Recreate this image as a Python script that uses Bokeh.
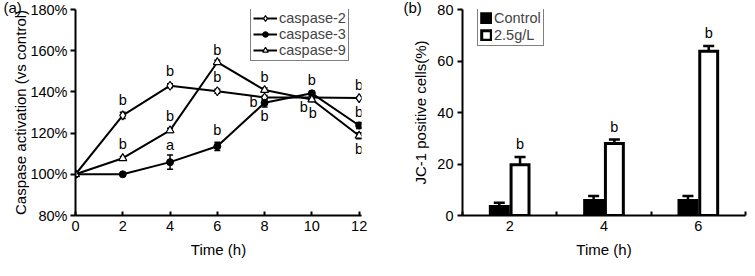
from bokeh.plotting import figure
from bokeh.models import (ColumnDataSource, FixedTicker, PrintfTickFormatter, Whisker,
                          TeeHead, Legend, LegendItem, Range1d)
from bokeh.layouts import row
from bokeh.embed import file_html
from bokeh.resources import INLINE
from bokeh.core.properties import value

FONT = "Liberation Sans"

# ---------------- data: panel (a) ----------------
time_h = [0, 2, 4, 6, 8, 10, 12]
casp2 = [100, 128.6, 143.0, 140.3, 137.3, 137.3, 137.0]
casp2_err = [0, 1.5, 1.0, 1.0, 1.0, 0.5, 0.5]
casp3 = [100, 100, 105.9, 113.6, 134.7, 139.3, 123.7]
casp3_err = [0, 0.5, 3.5, 2.0, 2.0, 1.0, 1.5]
casp9 = [100, 107.8, 121.3, 154.4, 140.9, 136.3, 118.7]
casp9_err = [0, 0.8, 1.0, 1.0, 1.0, 1.0, 1.5]
pct_ticks = [80, 100, 120, 140, 160, 180]
time_ticks = [0, 2, 4, 6, 8, 10, 12]

# significance letters (series, time index, letter)
sig_series = ["c2", "c9", "c2", "c9", "c3", "c9", "c2", "c3", "c9", "c2", "c3",
              "c3", "c2", "c9", "c2", "c3", "c9"]
sig_idx = [1, 1, 2, 2, 2, 3, 3, 3, 4, 4, 4, 5, 5, 5, 6, 6, 6]
sig_text = ["b", "b", "b", "b", "a", "b", "b", "b", "b", "b", "b",
            "b", "b", "b", "b", "b", "b"]
# label placement offsets in screen pixels (style)
sig_dx = [0, 0, 0, 0, 0, 0, 0, 0, 0, -11, 0, 0, -8, 1, 0, 0, 0]
sig_dy = [-15, -14, -15, -14, -17, -12, -14, -16, -13, 5, 13, -13, 10, 13, -13, -13, 13]

# ---------------- data: panel (b) ----------------
times_b = ["2", "4", "6"]
control = [3.5, 5.8, 5.8]
control_err = [1.5, 1.8, 1.8]
treated = [19.7, 28.0, 63.8]
treated_err = [3.0, 1.5, 2.0]
treated_sig = ["b", "b", "b"]
b_ticks = [0, 20, 40, 60, 80]

H = 260
TOP, BOTTOM = 9, 43
FRAME_H = H - TOP - BOTTOM


def style_axes(p, tick_px="14.5px", label_px="15px"):
    p.grid.visible = False
    p.outline_line_color = None
    p.background_fill_color = "white"
    for ax in p.axis:
        ax.axis_line_width = 2
        ax.axis_line_color = "black"
        ax.major_tick_line_width = 2
        ax.major_tick_line_color = "black"
        ax.minor_tick_line_color = None
        ax.major_label_text_font = FONT
        ax.major_label_text_font_size = tick_px
        ax.major_label_text_color = "black"
        ax.axis_label_text_font = FONT
        ax.axis_label_text_font_size = label_px
        ax.axis_label_text_font_style = "normal"
        ax.axis_label_text_color = "black"


def panel_title(p, text, offset):
    p.title.text = text
    p.title.align = "left"
    p.title.offset = offset
    p.title.standoff = -13
    p.title.text_font = FONT
    p.title.text_font_size = "15px"
    p.title.text_font_style = "normal"
    p.title.text_color = "black"


# ================= panel (a) =================
pa = figure(width=383, height=H, output_backend="svg", toolbar_location=None,
            x_range=Range1d(0, 12.1), y_range=Range1d(80, 180),
            min_border_left=75, min_border_right=22, min_border_top=TOP, min_border_bottom=BOTTOM)
style_axes(pa, label_px="15px")
panel_title(pa, "(a)", -72)
pa.xaxis.ticker = FixedTicker(ticks=time_ticks)
pa.yaxis.ticker = FixedTicker(ticks=pct_ticks)
pa.yaxis.formatter = PrintfTickFormatter(format="%d%%")
pa.xaxis.major_tick_in = 4
pa.xaxis.major_tick_out = 0
pa.yaxis.major_tick_in = 0
pa.yaxis.major_tick_out = 5
pa.xaxis.major_label_standoff = 5
pa.yaxis.major_label_standoff = 3
pa.xaxis.axis_label = "Time (h)"
pa.xaxis.axis_label_standoff = 7
pa.yaxis.axis_label = "Caspase activation (vs control)"
pa.yaxis.axis_label_standoff = -2

src_a = ColumnDataSource(dict(
    t=time_h,
    c2=casp2, c2lo=[v - e for v, e in zip(casp2, casp2_err)], c2hi=[v + e for v, e in zip(casp2, casp2_err)],
    c3=casp3, c3lo=[v - e for v, e in zip(casp3, casp3_err)], c3hi=[v + e for v, e in zip(casp3, casp3_err)],
    c9=casp9, c9lo=[v - e for v, e in zip(casp9, casp9_err)], c9hi=[v + e for v, e in zip(casp9, casp9_err)],
))

lines = {}
for key in ["c2", "c3", "c9"]:
    lines[key] = pa.line("t", key, source=src_a, line_color="black", line_width=2)
for key in ["c2", "c3", "c9"]:
    w = Whisker(source=src_a, base="t", upper=key + "hi", lower=key + "lo",
                line_color="black", line_width=1.5,
                upper_head=TeeHead(size=6, line_width=1.5, line_color="black"),
                lower_head=TeeHead(size=6, line_width=1.5, line_color="black"))
    pa.add_layout(w)

m2 = pa.scatter("t", "c2", source=src_a, marker="diamond", size=9,
                fill_color="white", line_color="black", line_width=1.2)
m3 = pa.scatter("t", "c3", source=src_a, marker="circle", size=7,
                fill_color="black", line_color="black", line_width=1)
m9 = pa.scatter("t", "c9", source=src_a, marker="triangle", size=8,
                fill_color="white", line_color="black", line_width=1.2)

series_vals = {"c2": casp2, "c3": casp3, "c9": casp9}
src_sig = ColumnDataSource(dict(
    x=[time_h[i] for i in sig_idx],
    y=[series_vals[s][i] for s, i in zip(sig_series, sig_idx)],
    text=sig_text, dx=sig_dx, dy=sig_dy,
))
pa.text("x", "y", text="text", source=src_sig, x_offset="dx", y_offset="dy",
        text_align="center", text_baseline="middle",
        text_font=value(FONT), text_font_size="14.5px", text_color="black")

legend_a = Legend(items=[
    LegendItem(label="caspase-2", renderers=[lines["c2"], m2]),
    LegendItem(label="caspase-3", renderers=[lines["c3"], m3]),
    LegendItem(label="caspase-9", renderers=[lines["c9"], m9]),
], location=(175, FRAME_H - 54), margin=0, padding=2, spacing=0,
    glyph_width=24, glyph_height=14, label_height=14, label_standoff=2,
    label_text_font=FONT, label_text_font_size="14.5px",
    border_line_color="black", border_line_width=1, background_fill_alpha=1)
pa.add_layout(legend_a)

# ================= panel (b) =================
pb = figure(width=364, height=H, output_backend="svg", toolbar_location=None,
            x_range=Range1d(0, len(times_b)), y_range=Range1d(0, 80),
            min_border_left=79, min_border_right=2, min_border_top=TOP, min_border_bottom=BOTTOM)
style_axes(pb)
panel_title(pb, "(b)", -59)
xb = [i + 0.5 for i in range(len(times_b))]
pb.xaxis.ticker = FixedTicker(ticks=xb, minor_ticks=list(range(len(times_b) + 1)))
pb.xaxis.major_label_overrides = {x: lab for x, lab in zip(xb, times_b)}
pb.xaxis.major_tick_in = 0
pb.xaxis.major_tick_out = 0
pb.xaxis.minor_tick_line_color = "black"
pb.xaxis.minor_tick_line_width = 2
pb.xaxis.minor_tick_in = 4
pb.xaxis.minor_tick_out = 0
pb.yaxis.ticker = FixedTicker(ticks=b_ticks)
pb.yaxis.major_tick_in = 0
pb.yaxis.major_tick_out = 5
pb.xaxis.major_label_standoff = 5
pb.yaxis.major_label_standoff = 4
pb.xaxis.axis_label = "Time (h)"
pb.xaxis.axis_label_standoff = 7
pb.yaxis.axis_label = "JC-1 positive cells(%)"
pb.yaxis.axis_label_standoff = 5

src_b = ColumnDataSource(dict(
    xc=[v - 0.11 for v in xb], xt=[v + 0.11 for v in xb],
    control=control, treated=treated,
    clo=[v - e for v, e in zip(control, control_err)], chi=[v + e for v, e in zip(control, control_err)],
    tlo=[v - e for v, e in zip(treated, treated_err)], thi=[v + e for v, e in zip(treated, treated_err)],
    sig=treated_sig,
))
rc = pb.vbar(x="xc", top="control", bottom=0, width=0.19, source=src_b,
             fill_color="black", line_color="black", line_width=3, line_join="miter")
rt = pb.vbar(x="xt", top="treated", bottom=0, width=0.19, source=src_b,
             fill_color="white", line_color="black", line_width=3, line_join="miter")
for base, lo, hi in [("xc", "clo", "chi"), ("xt", "tlo", "thi")]:
    pb.add_layout(Whisker(source=src_b, base=base, upper=hi, lower=lo,
                          line_color="black", line_width=2.5,
                          upper_head=TeeHead(size=11, line_width=2.5, line_color="black"),
                          lower_head=TeeHead(size=11, line_width=2.5, line_color="black")))
pb.text("xt", "thi", text="sig", source=src_b, y_offset=-5,
        text_align="center", text_baseline="bottom",
        text_font=value(FONT), text_font_size="14.5px", text_color="black")

legend_b = Legend(items=[
    LegendItem(label="Control", renderers=[rc]),
    LegendItem(label="2.5g/L", renderers=[rt]),
], location=(15, FRAME_H - 39), margin=0, padding=2, spacing=1,
    glyph_width=12, glyph_height=12, label_height=14, label_standoff=2,
    label_text_font=FONT, label_text_font_size="14.5px",
    border_line_color="black", border_line_width=1, background_fill_alpha=1)
pb.add_layout(legend_b)

layout = row(pa, pb)
open("out.html", "w").write(file_html(layout, INLINE))
